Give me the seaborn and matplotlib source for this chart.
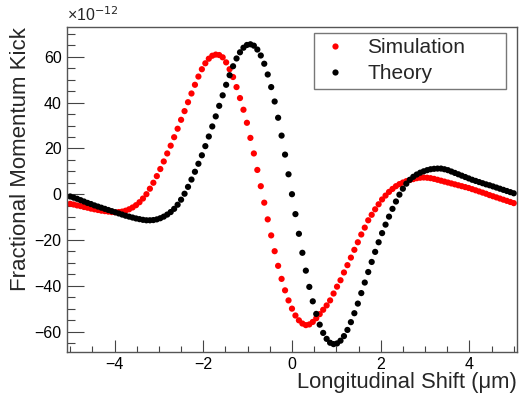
import numpy as np
import pandas as pd
import seaborn as sns
import matplotlib.pyplot as plt
from matplotlib.ticker import MultipleLocator

# longitudinal shift grid (um), 129 samples from -5 to 5
shift = np.linspace(-5, 5, 129)

# fractional momentum kick, units of 1e-12
simulation = [
    -4.2, -4.5, -4.9, -5.2, -5.6, -5.9, -6.3, -6.6, -6.9, -7.2,
    -7.4, -7.6, -7.8, -7.9, -7.8, -7.6, -7.2, -6.6, -5.8, -4.8,
    -3.5, -1.9, 0.0, 2.4, 5.0, 7.9, 11.0, 14.3, 17.8, 21.2,
    24.9, 28.6, 32.5, 36.3, 40.2, 44.0, 47.8, 51.4, 54.6, 57.2,
    59.2, 60.5, 61.0, 60.8, 59.8, 57.6, 54.6, 51.2, 46.8, 42.0,
    36.9, 31.2, 24.6, 17.8, 10.6, 3.5, -3.7, -11.0, -18.0, -24.9,
    -31.3, -37.0, -42.0, -46.4, -50.0, -53.0, -55.1, -56.5, -57.2, -56.9,
    -55.8, -54.2, -52.4, -50.5, -48.6, -46.4, -43.4, -40.4, -37.6, -34.2,
    -31.0, -27.7, -24.3, -21.0, -17.6, -14.6, -11.4, -9.0, -6.6, -4.4,
    -2.3, -0.6, 1.0, 2.3, 3.5, 4.4, 5.1, 5.7, 6.2, 6.6,
    7.0, 7.2, 7.3, 7.2, 7.0, 6.7, 6.3, 5.9, 5.5, 5.1,
    4.7, 4.3, 3.9, 3.5, 3.1, 2.7, 2.2, 1.7, 1.2, 0.7,
    0.2, -0.4, -0.9, -1.4, -1.9, -2.4, -2.9, -3.4, -3.9,
]

theory = [
    -1.0, -1.5, -2.0, -2.6, -3.2, -3.8, -4.3, -4.9, -5.4, -5.9,
    -6.4, -6.9, -7.4, -7.9, -8.4, -8.9, -9.4, -9.8, -10.2, -10.6,
    -10.9, -11.2, -11.4, -11.4, -11.3, -11.0, -10.5, -9.8, -8.9, -7.8,
    -6.4, -4.6, -2.4, 0.2, 3.2, 6.4, 9.8, 13.3, 17.0, 21.0,
    25.2, 29.6, 34.0, 38.6, 43.2, 47.8, 52.0, 55.9, 59.3, 62.0,
    64.0, 65.2, 65.5, 64.9, 63.2, 60.6, 57.0, 52.3, 46.8, 40.5,
    33.4, 25.6, 17.3, 8.7, 0.0, -8.7, -17.3, -25.6, -33.4, -40.5,
    -46.8, -52.3, -57.0, -60.6, -63.2, -64.9, -65.5, -65.2, -64.0, -62.0,
    -59.3, -55.9, -52.0, -47.8, -43.2, -38.6, -34.0, -29.6, -25.2, -21.0,
    -17.0, -13.3, -9.8, -6.4, -3.2, -0.2, 2.4, 4.6, 6.3, 7.6,
    8.6, 9.4, 10.0, 10.5, 10.9, 11.1, 11.2, 11.2, 10.9, 10.5,
    9.9, 9.3, 8.7, 8.1, 7.5, 6.9, 6.3, 5.8, 5.3, 4.8,
    4.3, 3.9, 3.4, 2.9, 2.4, 1.9, 1.4, 0.9, 0.4,
]

df = pd.concat([
    pd.DataFrame({'shift': shift, 'kick': simulation, 'series': 'Simulation'}),
    pd.DataFrame({'shift': shift, 'kick': theory, 'series': 'Theory'}),
], ignore_index=True)

sns.set_style('white')
plt.rcParams['font.family'] = ['Liberation Sans', 'DejaVu Sans']

fig = plt.figure(figsize=(5.2, 3.93), dpi=100)
ax = fig.add_axes([0.129, 0.104, 0.865, 0.827])

sns.scatterplot(data=df, x='shift', y='kick', hue='series',
                palette={'Simulation': 'red', 'Theory': 'black'},
                s=20, linewidth=0, ax=ax)

ax.set_xlim(-5.07, 5.07)
ax.set_ylim(-69, 73)
ax.xaxis.set_major_locator(MultipleLocator(2))
ax.xaxis.set_minor_locator(MultipleLocator(0.5))
ax.yaxis.set_major_locator(MultipleLocator(20))
ax.yaxis.set_minor_locator(MultipleLocator(5))
ax.tick_params(which='both', direction='in', bottom=True, left=True,
               top=False, right=False, colors='#444444', labelcolor='black',
               labelsize=11.5, width=0.8)
ax.tick_params(axis='x', which='major', length=9, pad=3.5)
ax.tick_params(axis='x', which='minor', length=4.5)
ax.tick_params(axis='y', which='major', length=12, pad=4)
ax.tick_params(axis='y', which='minor', length=6)
for sp in ax.spines.values():
    sp.set_color('#555555')
    sp.set_linewidth(1.0)

ax.set_xlabel('Longitudinal Shift (\u03bcm)', fontsize=15.8, loc='right', labelpad=0)
ax.set_ylabel('Fractional Momentum Kick', fontsize=16, loc='top', labelpad=2)
ax.text(0.0, 1.01, '\u00d710$^{-12}$', transform=ax.transAxes, fontsize=11.5,
        ha='left', va='bottom')

leg = ax.legend(loc='upper left', bbox_to_anchor=(0.549, 0.815, 0.427, 0.167),
                mode='expand', borderaxespad=0, fontsize=15, frameon=True,
                fancybox=False, edgecolor='#555555', markerscale=1.0,
                handletextpad=0.8, labelspacing=0.35, borderpad=0.25,
                handlelength=1.5, title=None)
leg.get_frame().set_linewidth(1.0)

fig.savefig('out.png', dpi=100)
